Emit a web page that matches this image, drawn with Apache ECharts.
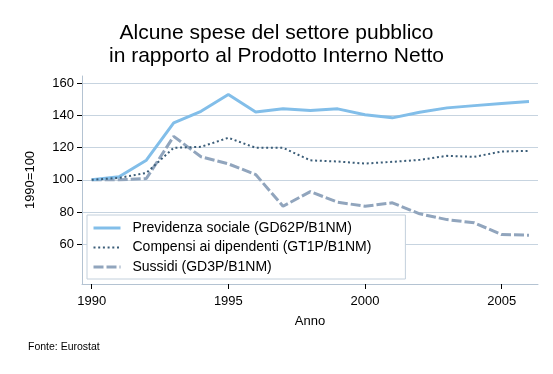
<!DOCTYPE html>
<html>
<head>
<meta charset="utf-8">
<script src="https://cdn.jsdelivr.net/npm/echarts@6/dist/echarts.min.js"></script>
<style>
html,body{margin:0;padding:0;background:#fff;}
#chart{width:553px;height:374px;}
</style>
</head>
<body>
<div id="chart"></div>
<script>
var years = [1990,1991,1992,1993,1994,1995,1996,1997,1998,1999,2000,2001,2002,2003,2004,2005,2006];
var previdenza = [100,101.9,112.2,135.4,142.6,153,142.2,144.1,143.1,144.1,140.4,138.5,142,144.7,146.1,147.4,148.6];
var compensi = [100,101.2,104.3,119.9,120.5,126.1,119.9,119.9,112.1,111.4,110.1,111.2,112.4,114.9,114.3,117.6,118];
var sussidi = [100,100,100.8,127,114.3,109.9,103.3,83.6,92.7,86.1,83.6,85.7,78.9,75.3,73.3,66,65.6];
var seriesNames = ['Previdenza sociale (GD62P/B1NM)','Compensi ai dipendenti (GT1P/B1NM)','Sussidi (GD3P/B1NM)'];
var yTicks = [60,80,100,120,140,160];
var xTicks = [1990,1995,2000,2005];

function pairs(vals){ return years.map(function(y,i){ return [y, vals[i]]; }); }

var FONT = "'Liberation Sans', Arial, sans-serif";
var styles = [
  {color:'#82bee9', width:3, type:'solid'},
  {color:'#3b5d78', width:2, type:[2,2.7]},
  {color:'#91a5bd', width:3, type:[10,3]}
];
var chart = echarts.init(document.getElementById('chart'), null, {renderer:'canvas'});
chart.setOption({
  animation:false,
  backgroundColor:'#ffffff',
  textStyle:{fontFamily:FONT},
  title:[{
    text:'Alcune spese del settore pubblico\nin rapporto al Prodotto Interno Netto',
    left:'center', top:17,
    textStyle:{fontFamily:FONT, fontSize:21, fontWeight:'normal', color:'#000', lineHeight:22.5}
  },{
    text:'Fonte: Eurostat', left:23, top:337,
    textStyle:{fontFamily:FONT, fontSize:10.5, fontWeight:'normal', color:'#000'}
  }],
  grid:{left:82, right:15, top:76, bottom:90, containLabel:false, outerBoundsMode:'none'},
  legend:{
    orient:'vertical', left:87, top:215,
    padding:[5,34,4,5],
    borderColor:'#c3d0dc', borderWidth:1, backgroundColor:'#fff',
    itemWidth:27, itemHeight:10, itemGap:3.5,
    itemStyle:{opacity:0},
    textStyle:{fontFamily:FONT, fontSize:14, color:'#000', lineHeight:16, padding:[0,0,0,7]},
    data:seriesNames.map(function(n,i){ return {name:n, lineStyle:{width:styles[i].width, type:styles[i].type, color:styles[i].color}}; })
  },
  xAxis:{
    type:'value', min:1989.645, max:2006.33,
    name:'Anno', nameLocation:'middle', nameGap:31,
    nameTextStyle:{fontFamily:FONT, fontSize:13, color:'#000'},
    axisLine:{show:true, lineStyle:{color:'#b4c3d2', width:1}},
    axisTick:{show:true, length:5, lineStyle:{color:'#000'}, customValues:xTicks},
    axisLabel:{fontFamily:FONT, fontSize:13, color:'#000', margin:11, customValues:xTicks, formatter:function(v){return String(v);}},
    splitLine:{show:false}
  },
  yAxis:{
    type:'value', min:35.3, max:164.5,
    name:'1990=100', nameLocation:'middle', nameGap:45, nameRotate:90,
    nameTextStyle:{fontFamily:FONT, fontSize:13, color:'#000'},
    axisLine:{show:true, lineStyle:{color:'#b4c3d2', width:1}},
    axisTick:{show:true, length:5, lineStyle:{color:'#000'}, customValues:yTicks},
    axisLabel:{fontFamily:FONT, fontSize:13, color:'#000', margin:8, customValues:yTicks},
    splitLine:{show:true, lineStyle:{color:'#c7d4e0', width:1}}
  },
  series:[{
    name:seriesNames[0], type:'line', data:pairs(previdenza), symbol:'none', z:3,
    lineStyle:styles[0], itemStyle:{color:styles[0].color}
  },{
    name:seriesNames[1], type:'line', data:pairs(compensi), symbol:'none', z:4,
    lineStyle:styles[1], itemStyle:{color:styles[1].color}
  },{
    name:seriesNames[2], type:'line', data:pairs(sussidi), symbol:'none', z:2,
    lineStyle:styles[2], itemStyle:{color:styles[2].color}
  }]
});
</script>
</body>
</html>
